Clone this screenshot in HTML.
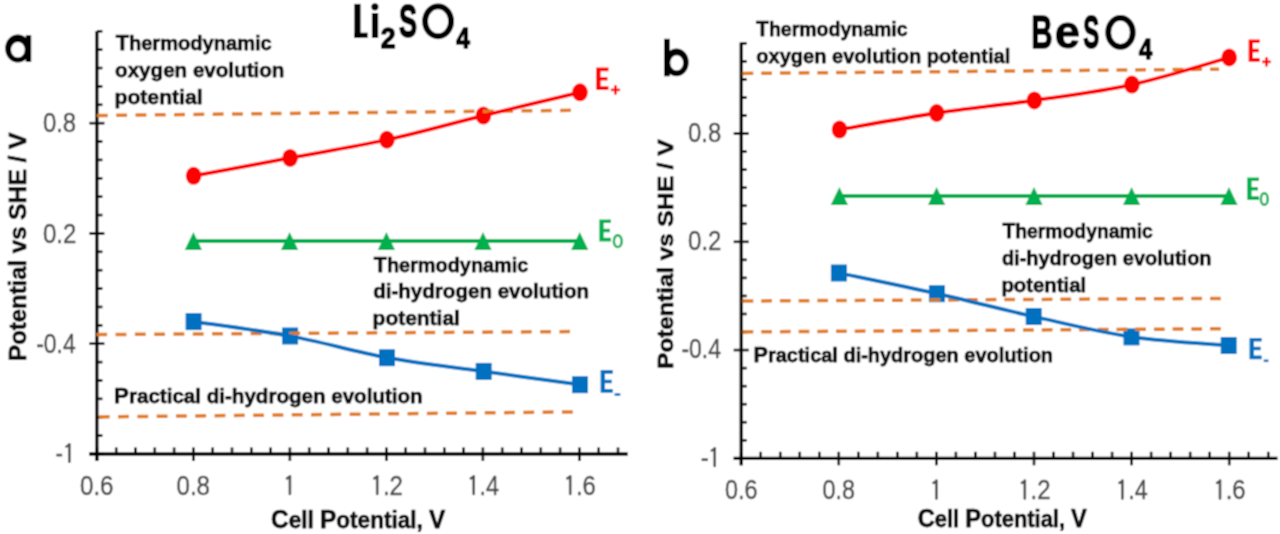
<!DOCTYPE html>
<html><head><meta charset="utf-8"><style>
html,body{margin:0;padding:0;background:#fff;}
body{width:1280px;height:534px;overflow:hidden;}
svg{display:block;}
.b{font-family:"Liberation Sans",sans-serif;font-weight:bold;}
.r{font-family:"Liberation Sans",sans-serif;}
</style></head><body>
<svg width="1280" height="534" viewBox="0 0 1280 534">
<defs><filter id="bl" x="0" y="0" width="1" height="1" filterUnits="objectBoundingBox"><feConvolveMatrix order="3" kernelMatrix="1 2 1 2 4 2 1 2 1" divisor="16" edgeMode="duplicate"/></filter></defs>
<g filter="url(#bl)">
<rect width="1280" height="534" fill="#fff"/>
<line x1="96.9" y1="31.3" x2="96.9" y2="461.0" stroke="#000" stroke-width="3.3"/>
<line x1="89.4" y1="454.0" x2="627.7" y2="454.0" stroke="#000" stroke-width="3.3"/>
<line x1="89.4" y1="454.00" x2="104.4" y2="454.00" stroke="#000" stroke-width="2.6"/>
<line x1="96.9" y1="435.62" x2="102.4" y2="435.62" stroke="#000" stroke-width="2.6"/>
<line x1="96.9" y1="417.24" x2="102.4" y2="417.24" stroke="#000" stroke-width="2.6"/>
<line x1="96.9" y1="398.86" x2="102.4" y2="398.86" stroke="#000" stroke-width="2.6"/>
<line x1="96.9" y1="380.48" x2="102.4" y2="380.48" stroke="#000" stroke-width="2.6"/>
<line x1="96.9" y1="362.10" x2="102.4" y2="362.10" stroke="#000" stroke-width="2.6"/>
<line x1="89.4" y1="343.72" x2="104.4" y2="343.72" stroke="#000" stroke-width="2.6"/>
<line x1="96.9" y1="325.34" x2="102.4" y2="325.34" stroke="#000" stroke-width="2.6"/>
<line x1="96.9" y1="306.96" x2="102.4" y2="306.96" stroke="#000" stroke-width="2.6"/>
<line x1="96.9" y1="288.58" x2="102.4" y2="288.58" stroke="#000" stroke-width="2.6"/>
<line x1="96.9" y1="270.20" x2="102.4" y2="270.20" stroke="#000" stroke-width="2.6"/>
<line x1="96.9" y1="251.82" x2="102.4" y2="251.82" stroke="#000" stroke-width="2.6"/>
<line x1="89.4" y1="233.44" x2="104.4" y2="233.44" stroke="#000" stroke-width="2.6"/>
<line x1="96.9" y1="215.06" x2="102.4" y2="215.06" stroke="#000" stroke-width="2.6"/>
<line x1="96.9" y1="196.68" x2="102.4" y2="196.68" stroke="#000" stroke-width="2.6"/>
<line x1="96.9" y1="178.30" x2="102.4" y2="178.30" stroke="#000" stroke-width="2.6"/>
<line x1="96.9" y1="159.92" x2="102.4" y2="159.92" stroke="#000" stroke-width="2.6"/>
<line x1="96.9" y1="141.54" x2="102.4" y2="141.54" stroke="#000" stroke-width="2.6"/>
<line x1="89.4" y1="123.16" x2="104.4" y2="123.16" stroke="#000" stroke-width="2.6"/>
<line x1="96.9" y1="104.78" x2="102.4" y2="104.78" stroke="#000" stroke-width="2.6"/>
<line x1="96.9" y1="86.40" x2="102.4" y2="86.40" stroke="#000" stroke-width="2.6"/>
<line x1="96.9" y1="68.02" x2="102.4" y2="68.02" stroke="#000" stroke-width="2.6"/>
<line x1="96.9" y1="49.64" x2="102.4" y2="49.64" stroke="#000" stroke-width="2.6"/>
<line x1="96.9" y1="31.26" x2="102.4" y2="31.26" stroke="#000" stroke-width="2.6"/>
<line x1="96.90" y1="447.5" x2="96.90" y2="461.0" stroke="#000" stroke-width="2.6"/>
<line x1="116.20" y1="447.5" x2="116.20" y2="454.0" stroke="#000" stroke-width="2.6"/>
<line x1="135.50" y1="447.5" x2="135.50" y2="454.0" stroke="#000" stroke-width="2.6"/>
<line x1="154.80" y1="447.5" x2="154.80" y2="454.0" stroke="#000" stroke-width="2.6"/>
<line x1="174.10" y1="447.5" x2="174.10" y2="454.0" stroke="#000" stroke-width="2.6"/>
<line x1="193.40" y1="447.5" x2="193.40" y2="461.0" stroke="#000" stroke-width="2.6"/>
<line x1="212.70" y1="447.5" x2="212.70" y2="454.0" stroke="#000" stroke-width="2.6"/>
<line x1="232.00" y1="447.5" x2="232.00" y2="454.0" stroke="#000" stroke-width="2.6"/>
<line x1="251.30" y1="447.5" x2="251.30" y2="454.0" stroke="#000" stroke-width="2.6"/>
<line x1="270.60" y1="447.5" x2="270.60" y2="454.0" stroke="#000" stroke-width="2.6"/>
<line x1="289.90" y1="447.5" x2="289.90" y2="461.0" stroke="#000" stroke-width="2.6"/>
<line x1="309.20" y1="447.5" x2="309.20" y2="454.0" stroke="#000" stroke-width="2.6"/>
<line x1="328.50" y1="447.5" x2="328.50" y2="454.0" stroke="#000" stroke-width="2.6"/>
<line x1="347.80" y1="447.5" x2="347.80" y2="454.0" stroke="#000" stroke-width="2.6"/>
<line x1="367.10" y1="447.5" x2="367.10" y2="454.0" stroke="#000" stroke-width="2.6"/>
<line x1="386.40" y1="447.5" x2="386.40" y2="461.0" stroke="#000" stroke-width="2.6"/>
<line x1="405.70" y1="447.5" x2="405.70" y2="454.0" stroke="#000" stroke-width="2.6"/>
<line x1="425.00" y1="447.5" x2="425.00" y2="454.0" stroke="#000" stroke-width="2.6"/>
<line x1="444.30" y1="447.5" x2="444.30" y2="454.0" stroke="#000" stroke-width="2.6"/>
<line x1="463.60" y1="447.5" x2="463.60" y2="454.0" stroke="#000" stroke-width="2.6"/>
<line x1="482.90" y1="447.5" x2="482.90" y2="461.0" stroke="#000" stroke-width="2.6"/>
<line x1="502.20" y1="447.5" x2="502.20" y2="454.0" stroke="#000" stroke-width="2.6"/>
<line x1="521.50" y1="447.5" x2="521.50" y2="454.0" stroke="#000" stroke-width="2.6"/>
<line x1="540.80" y1="447.5" x2="540.80" y2="454.0" stroke="#000" stroke-width="2.6"/>
<line x1="560.10" y1="447.5" x2="560.10" y2="454.0" stroke="#000" stroke-width="2.6"/>
<line x1="579.40" y1="447.5" x2="579.40" y2="461.0" stroke="#000" stroke-width="2.6"/>
<line x1="598.70" y1="447.5" x2="598.70" y2="454.0" stroke="#000" stroke-width="2.6"/>
<line x1="618.00" y1="447.5" x2="618.00" y2="454.0" stroke="#000" stroke-width="2.6"/>
<line x1="741.2" y1="42.5" x2="741.2" y2="465.3" stroke="#000" stroke-width="3.3"/>
<line x1="733.7" y1="458.3" x2="1277.5" y2="458.3" stroke="#000" stroke-width="3.3"/>
<line x1="733.7" y1="458.30" x2="748.7" y2="458.30" stroke="#000" stroke-width="2.6"/>
<line x1="741.2" y1="440.26" x2="746.7" y2="440.26" stroke="#000" stroke-width="2.6"/>
<line x1="741.2" y1="422.22" x2="746.7" y2="422.22" stroke="#000" stroke-width="2.6"/>
<line x1="741.2" y1="404.18" x2="746.7" y2="404.18" stroke="#000" stroke-width="2.6"/>
<line x1="741.2" y1="386.14" x2="746.7" y2="386.14" stroke="#000" stroke-width="2.6"/>
<line x1="741.2" y1="368.10" x2="746.7" y2="368.10" stroke="#000" stroke-width="2.6"/>
<line x1="733.7" y1="350.06" x2="748.7" y2="350.06" stroke="#000" stroke-width="2.6"/>
<line x1="741.2" y1="332.02" x2="746.7" y2="332.02" stroke="#000" stroke-width="2.6"/>
<line x1="741.2" y1="313.98" x2="746.7" y2="313.98" stroke="#000" stroke-width="2.6"/>
<line x1="741.2" y1="295.94" x2="746.7" y2="295.94" stroke="#000" stroke-width="2.6"/>
<line x1="741.2" y1="277.90" x2="746.7" y2="277.90" stroke="#000" stroke-width="2.6"/>
<line x1="741.2" y1="259.86" x2="746.7" y2="259.86" stroke="#000" stroke-width="2.6"/>
<line x1="733.7" y1="241.82" x2="748.7" y2="241.82" stroke="#000" stroke-width="2.6"/>
<line x1="741.2" y1="223.78" x2="746.7" y2="223.78" stroke="#000" stroke-width="2.6"/>
<line x1="741.2" y1="205.74" x2="746.7" y2="205.74" stroke="#000" stroke-width="2.6"/>
<line x1="741.2" y1="187.70" x2="746.7" y2="187.70" stroke="#000" stroke-width="2.6"/>
<line x1="741.2" y1="169.66" x2="746.7" y2="169.66" stroke="#000" stroke-width="2.6"/>
<line x1="741.2" y1="151.62" x2="746.7" y2="151.62" stroke="#000" stroke-width="2.6"/>
<line x1="733.7" y1="133.58" x2="748.7" y2="133.58" stroke="#000" stroke-width="2.6"/>
<line x1="741.2" y1="115.54" x2="746.7" y2="115.54" stroke="#000" stroke-width="2.6"/>
<line x1="741.2" y1="97.50" x2="746.7" y2="97.50" stroke="#000" stroke-width="2.6"/>
<line x1="741.2" y1="79.46" x2="746.7" y2="79.46" stroke="#000" stroke-width="2.6"/>
<line x1="741.2" y1="61.42" x2="746.7" y2="61.42" stroke="#000" stroke-width="2.6"/>
<line x1="741.2" y1="43.38" x2="746.7" y2="43.38" stroke="#000" stroke-width="2.6"/>
<line x1="741.20" y1="451.8" x2="741.20" y2="465.3" stroke="#000" stroke-width="2.6"/>
<line x1="760.72" y1="451.8" x2="760.72" y2="458.3" stroke="#000" stroke-width="2.6"/>
<line x1="780.24" y1="451.8" x2="780.24" y2="458.3" stroke="#000" stroke-width="2.6"/>
<line x1="799.76" y1="451.8" x2="799.76" y2="458.3" stroke="#000" stroke-width="2.6"/>
<line x1="819.28" y1="451.8" x2="819.28" y2="458.3" stroke="#000" stroke-width="2.6"/>
<line x1="838.80" y1="451.8" x2="838.80" y2="465.3" stroke="#000" stroke-width="2.6"/>
<line x1="858.32" y1="451.8" x2="858.32" y2="458.3" stroke="#000" stroke-width="2.6"/>
<line x1="877.84" y1="451.8" x2="877.84" y2="458.3" stroke="#000" stroke-width="2.6"/>
<line x1="897.36" y1="451.8" x2="897.36" y2="458.3" stroke="#000" stroke-width="2.6"/>
<line x1="916.88" y1="451.8" x2="916.88" y2="458.3" stroke="#000" stroke-width="2.6"/>
<line x1="936.40" y1="451.8" x2="936.40" y2="465.3" stroke="#000" stroke-width="2.6"/>
<line x1="955.92" y1="451.8" x2="955.92" y2="458.3" stroke="#000" stroke-width="2.6"/>
<line x1="975.44" y1="451.8" x2="975.44" y2="458.3" stroke="#000" stroke-width="2.6"/>
<line x1="994.96" y1="451.8" x2="994.96" y2="458.3" stroke="#000" stroke-width="2.6"/>
<line x1="1014.48" y1="451.8" x2="1014.48" y2="458.3" stroke="#000" stroke-width="2.6"/>
<line x1="1034.00" y1="451.8" x2="1034.00" y2="465.3" stroke="#000" stroke-width="2.6"/>
<line x1="1053.52" y1="451.8" x2="1053.52" y2="458.3" stroke="#000" stroke-width="2.6"/>
<line x1="1073.04" y1="451.8" x2="1073.04" y2="458.3" stroke="#000" stroke-width="2.6"/>
<line x1="1092.56" y1="451.8" x2="1092.56" y2="458.3" stroke="#000" stroke-width="2.6"/>
<line x1="1112.08" y1="451.8" x2="1112.08" y2="458.3" stroke="#000" stroke-width="2.6"/>
<line x1="1131.60" y1="451.8" x2="1131.60" y2="465.3" stroke="#000" stroke-width="2.6"/>
<line x1="1151.12" y1="451.8" x2="1151.12" y2="458.3" stroke="#000" stroke-width="2.6"/>
<line x1="1170.64" y1="451.8" x2="1170.64" y2="458.3" stroke="#000" stroke-width="2.6"/>
<line x1="1190.16" y1="451.8" x2="1190.16" y2="458.3" stroke="#000" stroke-width="2.6"/>
<line x1="1209.68" y1="451.8" x2="1209.68" y2="458.3" stroke="#000" stroke-width="2.6"/>
<line x1="1229.20" y1="451.8" x2="1229.20" y2="465.3" stroke="#000" stroke-width="2.6"/>
<line x1="1248.72" y1="451.8" x2="1248.72" y2="458.3" stroke="#000" stroke-width="2.6"/>
<line x1="1268.24" y1="451.8" x2="1268.24" y2="458.3" stroke="#000" stroke-width="2.6"/>
<ellipse cx="193.6" cy="175.8" rx="7.8" ry="9.0" fill="#ff0000"/>
<ellipse cx="290.1" cy="157.9" rx="7.8" ry="9.0" fill="#ff0000"/>
<ellipse cx="386.9" cy="139.75" rx="7.8" ry="9.0" fill="#ff0000"/>
<ellipse cx="483.4" cy="115.6" rx="7.8" ry="9.0" fill="#ff0000"/>
<ellipse cx="580" cy="92.3" rx="7.8" ry="9.0" fill="#ff0000"/>
<polygon points="193.40,232.00 202.10,250.00 184.70,250.00" fill="#00b050"/>
<polygon points="289.60,232.00 298.30,250.00 280.90,250.00" fill="#00b050"/>
<polygon points="386.40,232.00 395.10,250.00 377.70,250.00" fill="#00b050"/>
<polygon points="483.00,232.00 491.70,250.00 474.30,250.00" fill="#00b050"/>
<polygon points="579.70,232.00 588.40,250.00 571.00,250.00" fill="#00b050"/>
<rect x="185.60" y="313.10" width="16" height="17" fill="#0070c0"/>
<rect x="282.10" y="327.50" width="16" height="17" fill="#0070c0"/>
<rect x="379.00" y="349.20" width="16" height="17" fill="#0070c0"/>
<rect x="475.70" y="362.90" width="16" height="17" fill="#0070c0"/>
<rect x="572.00" y="376.20" width="16" height="17" fill="#0070c0"/>
<ellipse cx="839.5" cy="129.6" rx="7.8" ry="9.0" fill="#ff0000"/>
<ellipse cx="936.7" cy="113" rx="7.8" ry="9.0" fill="#ff0000"/>
<ellipse cx="1034.4" cy="100.4" rx="7.8" ry="9.0" fill="#ff0000"/>
<ellipse cx="1131.9" cy="84.6" rx="7.8" ry="9.0" fill="#ff0000"/>
<ellipse cx="1229.2" cy="57.5" rx="7.8" ry="9.0" fill="#ff0000"/>
<polygon points="839.40,187.00 848.10,205.00 830.70,205.00" fill="#00b050"/>
<polygon points="936.60,187.00 945.30,205.00 927.90,205.00" fill="#00b050"/>
<polygon points="1034.00,187.00 1042.70,205.00 1025.30,205.00" fill="#00b050"/>
<polygon points="1131.60,187.00 1140.30,205.00 1122.90,205.00" fill="#00b050"/>
<polygon points="1229.00,187.00 1237.70,205.00 1220.30,205.00" fill="#00b050"/>
<rect x="830.90" y="264.50" width="16" height="17" fill="#0070c0"/>
<rect x="928.90" y="285.20" width="16" height="17" fill="#0070c0"/>
<rect x="1025.70" y="308.00" width="16" height="17" fill="#0070c0"/>
<rect x="1123.50" y="328.40" width="16" height="17" fill="#0070c0"/>
<rect x="1220.70" y="337.00" width="16" height="17" fill="#0070c0"/>
<line x1="96.9" y1="115.5" x2="571" y2="110.3" stroke="#e17c24" stroke-width="3.5" stroke-dasharray="10.9 8.4"/>
<line x1="96.25" y1="334.6" x2="570" y2="331.6" stroke="#e17c24" stroke-width="3.5" stroke-dasharray="10.9 8.4"/>
<line x1="98.75" y1="416.9" x2="573.4" y2="411.9" stroke="#e17c24" stroke-width="3.5" stroke-dasharray="10.9 8.4"/>
<line x1="742.5" y1="73.4" x2="1219.1" y2="69.2" stroke="#e17c24" stroke-width="3.5" stroke-dasharray="10.8 7.9"/>
<line x1="742.5" y1="301" x2="1221.3" y2="298.4" stroke="#e17c24" stroke-width="3.5" stroke-dasharray="10.8 7.9"/>
<line x1="742.5" y1="331.9" x2="1221.8" y2="328.75" stroke="#e17c24" stroke-width="3.5" stroke-dasharray="10.8 7.9"/>
<path d="M193.60,175.80 C209.68,172.82 257.88,163.91 290.10,157.90 C322.32,151.89 354.68,146.80 386.90,139.75 C419.12,132.70 451.22,123.51 483.40,115.60 C515.58,107.69 563.90,96.18 580.00,92.30" fill="none" stroke="#ff0000" stroke-width="3.8"/>
<polyline points="193.40,241.00 289.60,241.00 386.40,241.00 483.00,241.00 579.70,241.00" fill="none" stroke="#00b050" stroke-width="3.8"/>
<path d="M193.60,321.60 C209.68,324.00 257.87,329.98 290.10,336.00 C322.33,342.02 354.73,351.80 387.00,357.70 C419.27,363.60 451.53,366.90 483.70,371.40 C515.87,375.90 563.95,382.48 580.00,384.70" fill="none" stroke="#0070c0" stroke-width="3.8"/>
<path d="M839.50,129.60 C855.70,126.83 904.22,117.87 936.70,113.00 C969.18,108.13 1001.87,105.13 1034.40,100.40 C1066.93,95.67 1099.43,91.75 1131.90,84.60 C1164.37,77.45 1212.98,62.02 1229.20,57.50" fill="none" stroke="#ff0000" stroke-width="3.8"/>
<polyline points="839.40,196.00 936.60,196.00 1034.00,196.00 1131.60,196.00 1229.00,196.00" fill="none" stroke="#00b050" stroke-width="3.8"/>
<path d="M838.90,273.00 C855.23,276.45 904.43,286.45 936.90,293.70 C969.37,300.95 1001.27,309.30 1033.70,316.50 C1066.13,323.70 1099.00,332.07 1131.50,336.90 C1164.00,341.73 1212.50,344.07 1228.70,345.50" fill="none" stroke="#0070c0" stroke-width="3.8"/>
<path fill-rule="evenodd" fill="#000" d="M5.200000000000001,48.45 a12.6,14.05 0 1,0 25.2,0 a12.6,14.05 0 1,0 -25.2,0 Z M10.999999999999998,49.7 a6.9,7.8 0 1,0 13.8,0 a6.9,7.8 0 1,0 -13.8,0 Z"/>
<rect x="25.8" y="35.2" width="5.4" height="26.8" fill="#000"/>
<path fill-rule="evenodd" fill="#000" d="M664.3,62.4 a12.2,13.9 0 1,0 24.4,0 a12.2,13.9 0 1,0 -24.4,0 Z M670.2,62.8 a6.5,7.6 0 1,0 13.0,0 a6.5,7.6 0 1,0 -13.0,0 Z"/>
<rect x="664.1" y="38.8" width="5.7" height="37.5" fill="#000"/>
<rect x="354.3" y="3.9" width="6.3" height="33.9" fill="#000"/>
<rect x="354.3" y="32.7" width="13.4" height="5.1" fill="#000"/>
<rect x="371.9" y="13" width="6.3" height="25" fill="#000"/>
<circle cx="374.9" cy="6.8" r="3.6" fill="#000"/>
<text class="b" x="380.73" y="47.95" font-size="29.83" fill="#000" stroke="#000" stroke-width="1.5" stroke-linejoin="round" textLength="14.79" lengthAdjust="spacingAndGlyphs">2</text>
<text class="b" x="399.02" y="37.40" font-size="45.69" fill="#000" stroke="#000" stroke-width="1.8" stroke-linejoin="round" textLength="18.04" lengthAdjust="spacingAndGlyphs">S</text>
<ellipse cx="438.1" cy="21.3" rx="13.0" ry="14.9" fill="none" stroke="#000" stroke-width="5.9"/>
<text class="b" x="456.18" y="47.95" font-size="29.83" fill="#000" stroke="#000" stroke-width="1.5" stroke-linejoin="round" textLength="13.60" lengthAdjust="spacingAndGlyphs">4</text>
<text class="b" x="1031.33" y="48.20" font-size="46.27" fill="#000" stroke="#000" stroke-width="1.4" stroke-linejoin="round" textLength="21.31" lengthAdjust="spacingAndGlyphs">B</text>
<text class="b" x="1054.73" y="48.40" font-size="46.85" fill="#000" stroke="#000" stroke-width="1.0" stroke-linejoin="round" textLength="25.22" lengthAdjust="spacingAndGlyphs">e</text>
<text class="b" x="1083.31" y="48.30" font-size="45.69" fill="#000" stroke="#000" stroke-width="1.8" stroke-linejoin="round" textLength="16.03" lengthAdjust="spacingAndGlyphs">S</text>
<ellipse cx="1120.5" cy="32.4" rx="12.3" ry="14.5" fill="none" stroke="#000" stroke-width="5.8"/>
<text class="b" x="1139.09" y="59.35" font-size="29.83" fill="#000" stroke="#000" stroke-width="1.5" stroke-linejoin="round" textLength="13.19" lengthAdjust="spacingAndGlyphs">4</text>
<text class="r" x="79.98" y="494.77" font-size="26.85" fill="#4d4d4d" stroke="#4d4d4d" stroke-width="0.45" stroke-linejoin="round" textLength="33.55" lengthAdjust="spacingAndGlyphs">0.6</text>
<text class="r" x="176.48" y="494.77" font-size="26.85" fill="#4d4d4d" stroke="#4d4d4d" stroke-width="0.45" stroke-linejoin="round" textLength="33.54" lengthAdjust="spacingAndGlyphs">0.8</text>
<path d="M287.00,478.40 L290.10,476.60 M289.90,476.20 L289.90,494.00" stroke="#4d4d4d" stroke-width="2.6" fill="none" stroke-linecap="round"/>
<path d="M374.30,478.40 L377.40,476.60 M377.20,476.20 L377.20,494.00" stroke="#4d4d4d" stroke-width="2.6" fill="none" stroke-linecap="round"/>
<text class="r" x="382.93" y="494.77" font-size="26.85" fill="#4d4d4d" stroke="#4d4d4d" stroke-width="0.45" stroke-linejoin="round" textLength="20.06" lengthAdjust="spacingAndGlyphs">.2</text>
<path d="M470.80,478.40 L473.90,476.60 M473.70,476.20 L473.70,494.00" stroke="#4d4d4d" stroke-width="2.6" fill="none" stroke-linecap="round"/>
<text class="r" x="479.49" y="494.77" font-size="26.85" fill="#4d4d4d" stroke="#4d4d4d" stroke-width="0.45" stroke-linejoin="round" textLength="19.46" lengthAdjust="spacingAndGlyphs">.4</text>
<path d="M567.30,478.40 L570.40,476.60 M570.20,476.20 L570.20,494.00" stroke="#4d4d4d" stroke-width="2.6" fill="none" stroke-linecap="round"/>
<text class="r" x="575.95" y="494.77" font-size="26.85" fill="#4d4d4d" stroke="#4d4d4d" stroke-width="0.45" stroke-linejoin="round" textLength="19.87" lengthAdjust="spacingAndGlyphs">.6</text>
<text class="r" x="724.91" y="498.77" font-size="26.85" fill="#4d4d4d" stroke="#4d4d4d" stroke-width="0.45" stroke-linejoin="round" textLength="32.49" lengthAdjust="spacingAndGlyphs">0.6</text>
<text class="r" x="822.51" y="498.77" font-size="26.85" fill="#4d4d4d" stroke="#4d4d4d" stroke-width="0.45" stroke-linejoin="round" textLength="32.48" lengthAdjust="spacingAndGlyphs">0.8</text>
<path d="M933.50,482.80 L936.60,481.00 M936.40,480.60 L936.40,498.60" stroke="#4d4d4d" stroke-width="2.6" fill="none" stroke-linecap="round"/>
<path d="M1021.90,482.80 L1025.00,481.00 M1024.80,480.60 L1024.80,498.60" stroke="#4d4d4d" stroke-width="2.6" fill="none" stroke-linecap="round"/>
<text class="r" x="1030.53" y="498.77" font-size="26.85" fill="#4d4d4d" stroke="#4d4d4d" stroke-width="0.45" stroke-linejoin="round" textLength="20.06" lengthAdjust="spacingAndGlyphs">.2</text>
<path d="M1119.50,482.80 L1122.60,481.00 M1122.40,480.60 L1122.40,498.60" stroke="#4d4d4d" stroke-width="2.6" fill="none" stroke-linecap="round"/>
<text class="r" x="1128.19" y="498.77" font-size="26.85" fill="#4d4d4d" stroke="#4d4d4d" stroke-width="0.45" stroke-linejoin="round" textLength="19.46" lengthAdjust="spacingAndGlyphs">.4</text>
<path d="M1217.10,482.80 L1220.20,481.00 M1220.00,480.60 L1220.00,498.60" stroke="#4d4d4d" stroke-width="2.6" fill="none" stroke-linecap="round"/>
<text class="r" x="1225.75" y="498.77" font-size="26.85" fill="#4d4d4d" stroke="#4d4d4d" stroke-width="0.45" stroke-linejoin="round" textLength="19.87" lengthAdjust="spacingAndGlyphs">.6</text>
<text class="r" x="42.89" y="132.43" font-size="26.85" fill="#4d4d4d" stroke="#4d4d4d" stroke-width="0.45" stroke-linejoin="round" textLength="33.22" lengthAdjust="spacingAndGlyphs">0.8</text>
<text class="r" x="42.89" y="242.72" font-size="26.85" fill="#4d4d4d" stroke="#4d4d4d" stroke-width="0.45" stroke-linejoin="round" textLength="33.40" lengthAdjust="spacingAndGlyphs">0.2</text>
<text class="r" x="36.21" y="353.00" font-size="26.85" fill="#4d4d4d" stroke="#4d4d4d" stroke-width="0.45" stroke-linejoin="round" textLength="39.54" lengthAdjust="spacingAndGlyphs">-0.4</text>
<text class="r" x="688.09" y="141.55" font-size="26.85" fill="#4d4d4d" stroke="#4d4d4d" stroke-width="0.45" stroke-linejoin="round" textLength="33.22" lengthAdjust="spacingAndGlyphs">0.8</text>
<text class="r" x="688.09" y="249.80" font-size="26.85" fill="#4d4d4d" stroke="#4d4d4d" stroke-width="0.45" stroke-linejoin="round" textLength="33.40" lengthAdjust="spacingAndGlyphs">0.2</text>
<text class="r" x="681.41" y="358.03" font-size="26.85" fill="#4d4d4d" stroke="#4d4d4d" stroke-width="0.45" stroke-linejoin="round" textLength="39.54" lengthAdjust="spacingAndGlyphs">-0.4</text>
<rect x="56.30" y="453.75" width="5.90" height="2.7" fill="#4d4d4d"/>
<path d="M66.45,446.50 L69.55,444.70 M69.35,444.30 L69.35,461.70" stroke="#4d4d4d" stroke-width="2.6" fill="none" stroke-linecap="round"/>
<rect x="701.60" y="458.35" width="6.30" height="2.7" fill="#4d4d4d"/>
<path d="M711.80,450.50 L714.90,448.70 M714.70,448.30 L714.70,465.90" stroke="#4d4d4d" stroke-width="2.6" fill="none" stroke-linecap="round"/>
<text class="b" x="271.10" y="528.30" font-size="23.6" fill="#0a0a0a" stroke="#0a0a0a" stroke-width="0.75" stroke-linejoin="round" textLength="174.27" lengthAdjust="spacingAndGlyphs"><tspan font-size="25.5">C</tspan>ell <tspan font-size="25.5">P</tspan>otential, <tspan font-size="25.5">V</tspan></text>
<text class="b" x="917.78" y="526.70" font-size="23.6" fill="#0a0a0a" stroke="#0a0a0a" stroke-width="0.75" stroke-linejoin="round" textLength="169.08" lengthAdjust="spacingAndGlyphs"><tspan font-size="25.5">C</tspan>ell <tspan font-size="25.5">P</tspan>otential, <tspan font-size="25.5">V</tspan></text>
<text class="b" transform="translate(26.00,361.36) rotate(-90)" x="0" y="0" font-size="23.2" fill="#0a0a0a" stroke="#0a0a0a" stroke-width="0.75" stroke-linejoin="round" textLength="228.82" lengthAdjust="spacingAndGlyphs"><tspan font-size="24">P</tspan>otential vs <tspan font-size="24">S</tspan><tspan font-size="24">H</tspan><tspan font-size="24">E</tspan> / <tspan font-size="24">V</tspan></text>
<text class="b" transform="translate(673.00,369.05) rotate(-90)" x="0" y="0" font-size="22.3" fill="#0a0a0a" stroke="#0a0a0a" stroke-width="0.75" stroke-linejoin="round" textLength="229.72" lengthAdjust="spacingAndGlyphs"><tspan font-size="22.8">P</tspan>otential vs <tspan font-size="22.8">S</tspan><tspan font-size="22.8">H</tspan><tspan font-size="22.8">E</tspan> / <tspan font-size="22.8">V</tspan></text>
<text class="b" x="115.66" y="49.70" font-size="20.8" fill="#0a0a0a" stroke="#0a0a0a" stroke-width="0.75" stroke-linejoin="round" textLength="156.13" lengthAdjust="spacingAndGlyphs"><tspan font-size="22.5">T</tspan>hermodynamic</text>
<text class="b" x="115.10" y="76.75" font-size="20.8" fill="#0a0a0a" stroke="#0a0a0a" stroke-width="0.75" stroke-linejoin="round" textLength="169.28" lengthAdjust="spacingAndGlyphs">oxygen evolution</text>
<text class="b" x="114.51" y="103.80" font-size="20.8" fill="#0a0a0a" stroke="#0a0a0a" stroke-width="0.75" stroke-linejoin="round" textLength="88.09" lengthAdjust="spacingAndGlyphs">potential</text>
<text class="b" x="373.76" y="271.60" font-size="20.8" fill="#0a0a0a" stroke="#0a0a0a" stroke-width="0.75" stroke-linejoin="round" textLength="154.62" lengthAdjust="spacingAndGlyphs"><tspan font-size="22.5">T</tspan>hermodynamic</text>
<text class="b" x="373.16" y="297.80" font-size="20.8" fill="#0a0a0a" stroke="#0a0a0a" stroke-width="0.75" stroke-linejoin="round" textLength="215.92" lengthAdjust="spacingAndGlyphs">di-hydrogen evolution</text>
<text class="b" x="372.62" y="325.00" font-size="20.8" fill="#0a0a0a" stroke="#0a0a0a" stroke-width="0.75" stroke-linejoin="round" textLength="87.26" lengthAdjust="spacingAndGlyphs">potential</text>
<text class="b" x="114.11" y="403.40" font-size="20.8" fill="#0a0a0a" stroke="#0a0a0a" stroke-width="0.75" stroke-linejoin="round" textLength="308.56" lengthAdjust="spacingAndGlyphs"><tspan font-size="22.5">P</tspan>ractical di-hydrogen evolution</text>
<text class="b" x="756.01" y="36.25" font-size="20.8" fill="#0a0a0a" stroke="#0a0a0a" stroke-width="0.75" stroke-linejoin="round" textLength="151.56" lengthAdjust="spacingAndGlyphs"><tspan font-size="22.5">T</tspan>hermodynamic</text>
<text class="b" x="756.22" y="62.50" font-size="20.8" fill="#0a0a0a" stroke="#0a0a0a" stroke-width="0.75" stroke-linejoin="round" textLength="254.10" lengthAdjust="spacingAndGlyphs">oxygen evolution potential</text>
<text class="b" x="1002.52" y="238.40" font-size="20.8" fill="#0a0a0a" stroke="#0a0a0a" stroke-width="0.75" stroke-linejoin="round" textLength="150.25" lengthAdjust="spacingAndGlyphs"><tspan font-size="22.5">T</tspan>hermodynamic</text>
<text class="b" x="1001.93" y="264.70" font-size="20.8" fill="#0a0a0a" stroke="#0a0a0a" stroke-width="0.75" stroke-linejoin="round" textLength="209.61" lengthAdjust="spacingAndGlyphs">di-hydrogen evolution</text>
<text class="b" x="1001.41" y="291.90" font-size="20.8" fill="#0a0a0a" stroke="#0a0a0a" stroke-width="0.75" stroke-linejoin="round" textLength="84.73" lengthAdjust="spacingAndGlyphs">potential</text>
<text class="b" x="753.56" y="361.50" font-size="20.8" fill="#0a0a0a" stroke="#0a0a0a" stroke-width="0.75" stroke-linejoin="round" textLength="299.48" lengthAdjust="spacingAndGlyphs"><tspan font-size="22.5">P</tspan>ractical di-hydrogen evolution</text>
<path d="M596.20,67.50 H608.50 V71.20 H600.60 V76.95 H607.50 V80.45 H600.60 V86.20 H608.50 V89.90 H596.20 Z" fill="#ff0000"/>
<rect x="610.80" y="88.60" width="9.30" height="2.6" fill="#ff0000"/>
<rect x="614.15" y="85.20" width="2.6" height="9.40" fill="#ff0000"/>
<path d="M599.30,219.40 H611.00 V223.10 H603.70 V228.65 H610.00 V232.15 H603.70 V237.70 H611.00 V241.40 H599.30 Z" fill="#00b050"/>
<ellipse cx="617.80" cy="241.15" rx="3.95" ry="5.90" fill="none" stroke="#00b050" stroke-width="2.5"/>
<path d="M600.60,370.00 H612.80 V373.70 H605.00 V379.65 H611.80 V383.15 H605.00 V389.10 H612.80 V392.80 H600.60 Z" fill="#0070c0"/>
<rect x="614.60" y="393.20" width="5.70" height="2.6" fill="#0070c0"/>
<path d="M1248.60,39.40 H1259.80 V43.10 H1253.00 V48.85 H1258.80 V52.35 H1253.00 V58.10 H1259.80 V61.80 H1248.60 Z" fill="#ff0000"/>
<rect x="1262.10" y="60.55" width="8.90" height="2.6" fill="#ff0000"/>
<rect x="1265.25" y="57.20" width="2.6" height="9.30" fill="#ff0000"/>
<path d="M1247.20,177.40 H1259.00 V181.10 H1251.60 V186.90 H1258.00 V190.40 H1251.60 V196.20 H1259.00 V199.90 H1247.20 Z" fill="#00b050"/>
<ellipse cx="1264.30" cy="199.00" rx="3.45" ry="5.75" fill="none" stroke="#00b050" stroke-width="2.5"/>
<path d="M1249.50,337.90 H1261.70 V341.60 H1253.90 V346.80 H1260.70 V350.30 H1253.90 V355.50 H1261.70 V359.20 H1249.50 Z" fill="#0070c0"/>
<rect x="1263.75" y="359.50" width="4.65" height="2.6" fill="#0070c0"/>
</g>
</svg>
</body></html>
